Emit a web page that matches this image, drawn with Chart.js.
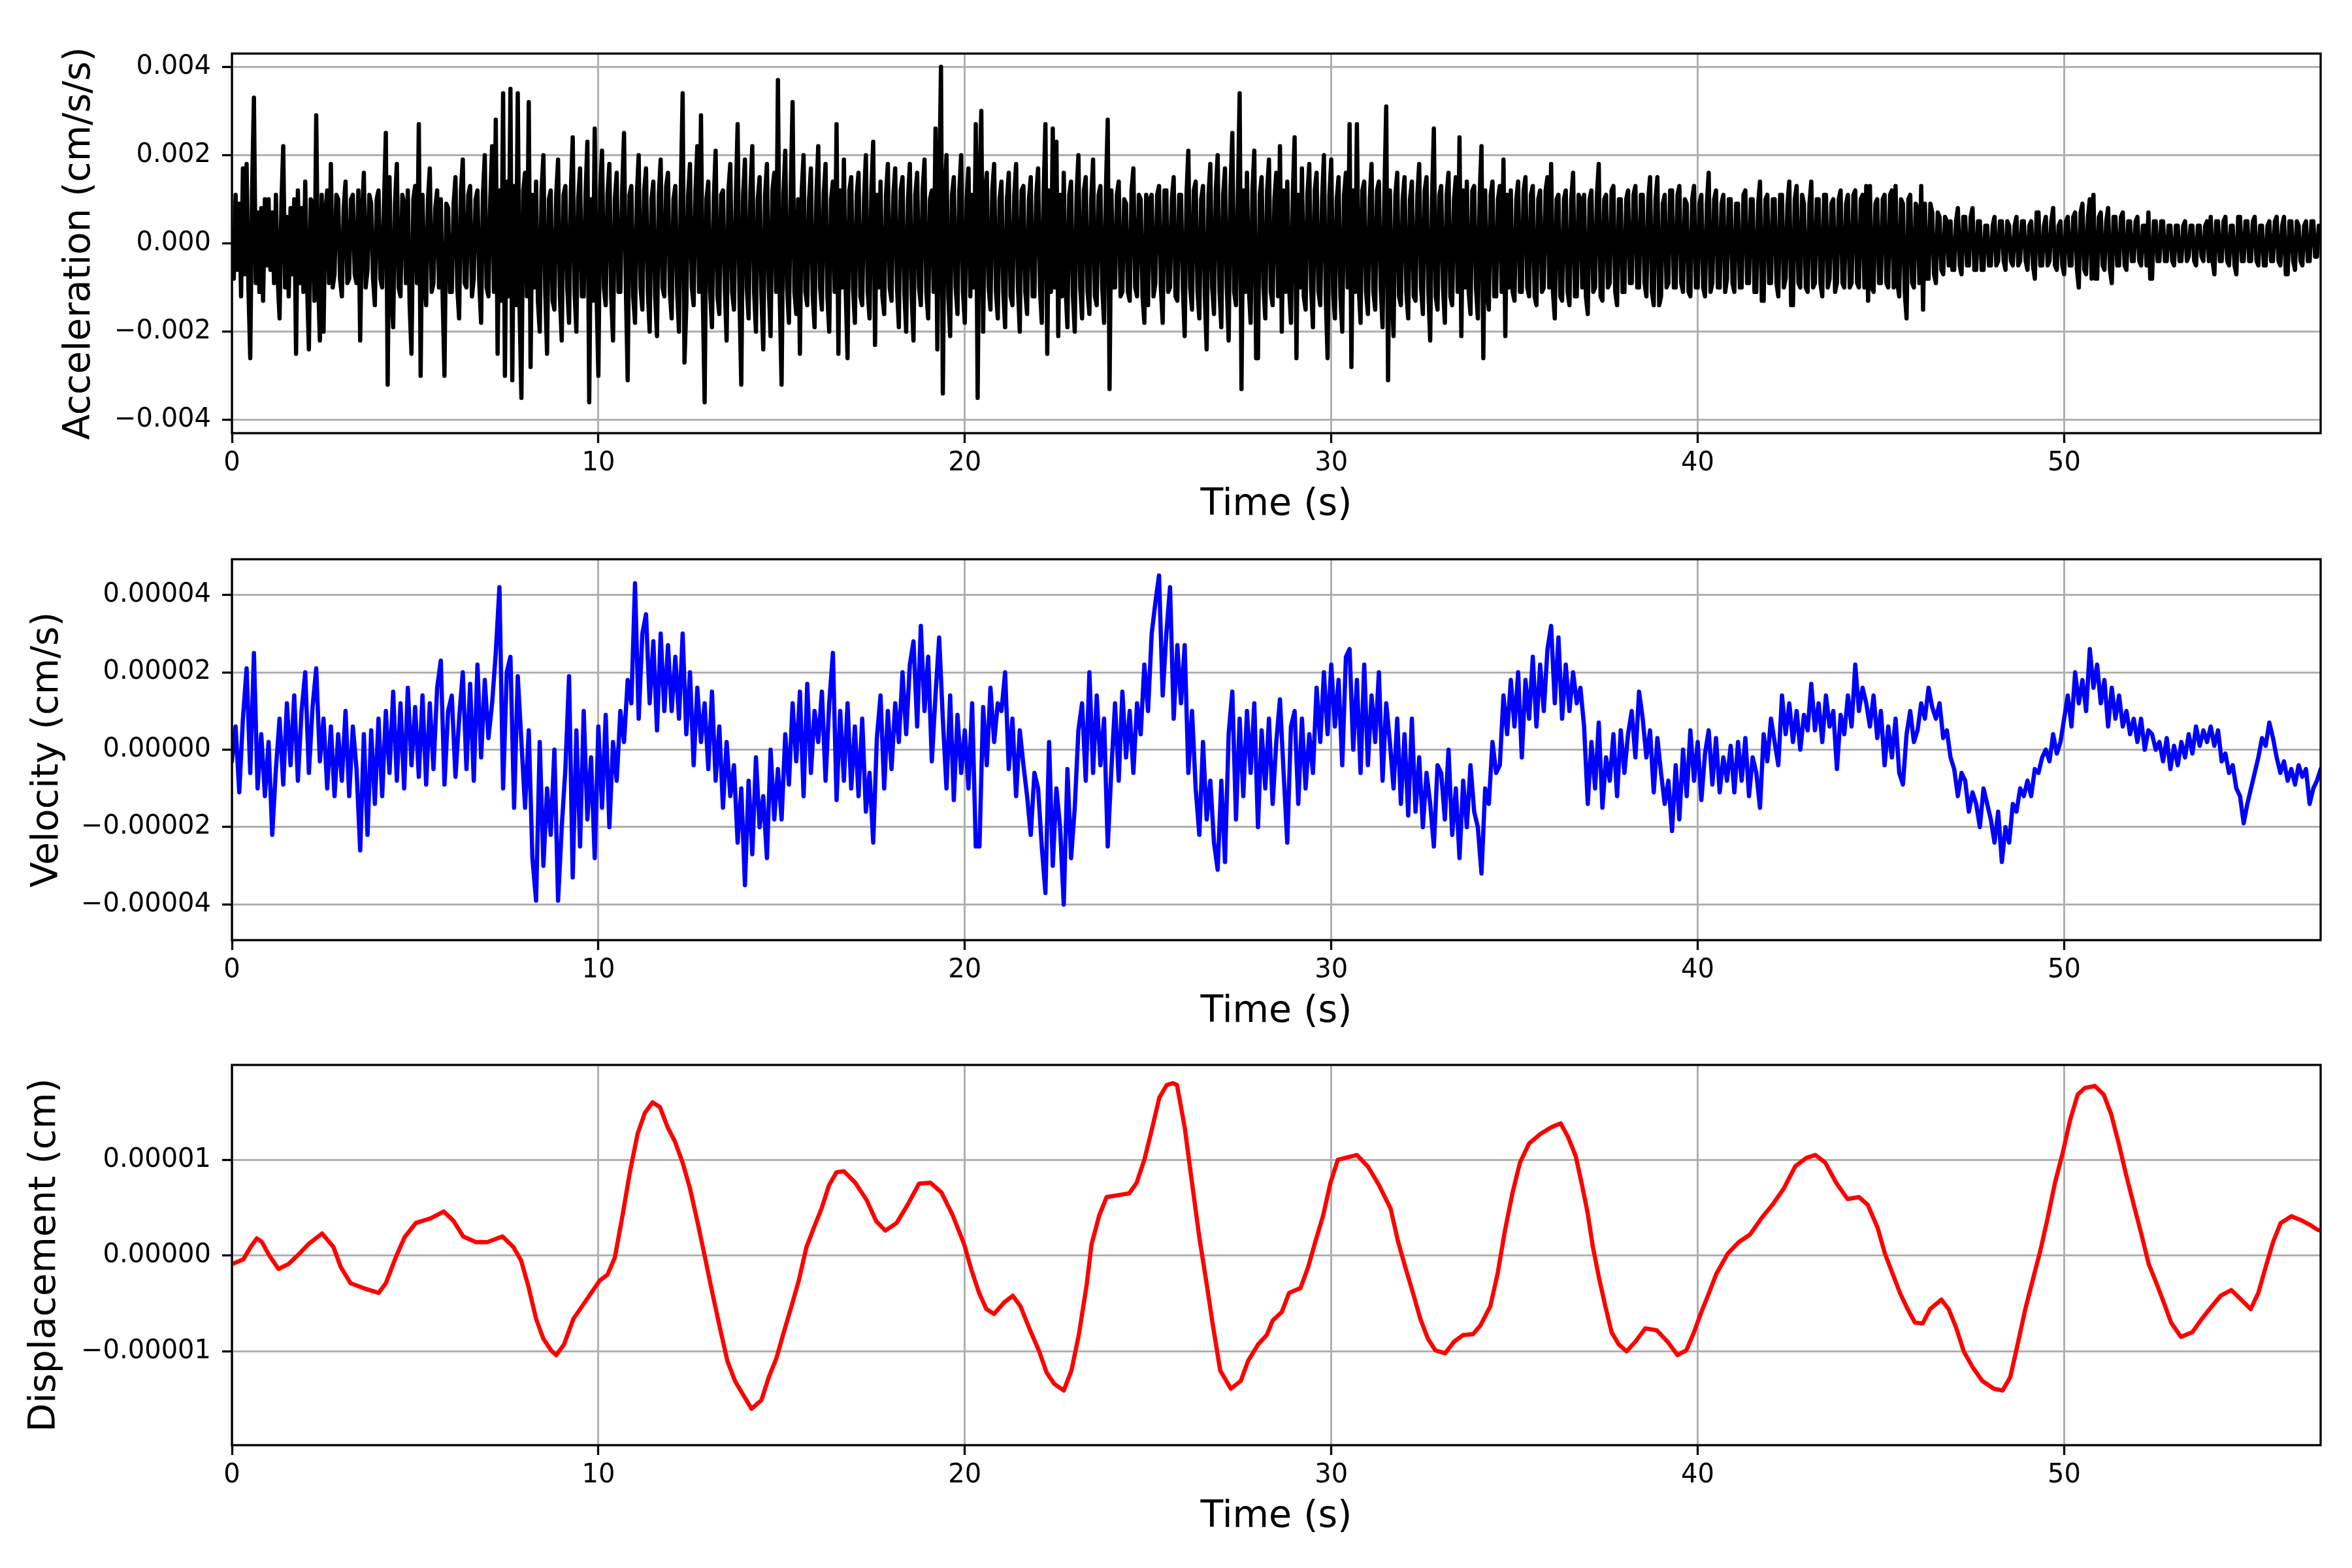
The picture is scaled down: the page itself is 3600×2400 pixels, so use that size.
<!DOCTYPE html>
<html>
<head>
<meta charset="utf-8">
<title>Acceleration / Velocity / Displacement</title>
<script src="https://cdn.jsdelivr.net/npm/chart.js@4.4.1/dist/chart.umd.min.js"></script>
<style>
  html, body { margin: 0; padding: 0; background: #fff; }
  #wrap { position: relative; width: 3600px; height: 2400px; background: #fff; }
  #wrap canvas { position: absolute; left: 0; }
</style>
</head>
<body>
<div id="wrap">
  <canvas id="accChart"></canvas>
  <canvas id="velChart"></canvas>
  <canvas id="dispChart"></canvas>
</div>
<script>
'use strict';

/* ----- common font ----- */
Chart.defaults.font.family = "'DejaVu Sans', sans-serif";
Chart.defaults.color = '#000';

/* ----- time axis ----- */
const TIME_TICKS = [0, 10, 20, 30, 40, 50];
const T_MAX = 57;

/* ----- acceleration: one value every 0.05 s (one row = 1 s), in 1e-4 cm/s/s ----- */
const ACC_DT = 0.05;
const ACC = [
  3, -8, 11, -6, 9, -12, 17, -7, 18, -10, -26, 12, 33, -9, 7, -11, 8, -13, 10, -5,
  10, -6, 7, -9, 11, -8, -17, 9, 22, -10, 6, -12, 8, -7, 10, -25, 12, -9, 8, -11,
  14, -9, -24, 10, 9, -13, 29, -8, -22, 11, -20, 7, 12, -9, 18, -10, -7, 11, 10, -8,
  -12, 8, 14, -9, -8, 10, 11, -7, -9, 12, -22, 6, 16, -10, -6, 11, 9, -8, -14, 10,
  12, -8, -10, 9, 25, -32, 15, -11, -19, 9, 18, -10, -12, 11, 9, -9, 12, -14, -25, 10,
  13, -9, 27, -30, 11, -8, -14, 10, 17, -11, -9, 8, 12, -10, 10, -12, -30, 9, 8, -11,
  -11, 9, 15, -10, -17, 12, 19, -9, -10, 11, 13, -12, -8, 10, 12, -9, -18, 11, 20, -10,
  -12, 10, 22, -11, 28, -25, 12, -13, 34, -30, 14, -12, 35, -31, 13, -14, 34, -15, -35, 12,
  16, -12, 32, -28, 11, -10, 14, -13, -20, 12, 20, -11, -25, 10, 12, -13, -15, 11, 19, -12,
  -22, 11, 13, -10, -18, 12, 24, -11, -20, 10, 17, -12, -12, 11, 23, -36, 10, -13, 26, -11,
  -30, 12, 21, -10, -14, 11, 18, -12, -22, 10, 16, -11, -11, 12, 25, -10, -31, 11, 13, -12,
  -18, 11, 20, -10, -15, 12, 17, -11, -20, 10, 14, -12, -21, 11, 19, -10, -12, 13, 16, -11,
  -17, 10, 13, -11, -20, 12, 34, -27, -14, 11, 18, -10, -14, 12, 22, -11, 29, -12, -36, 10,
  14, -11, -19, 10, 21, -12, -16, 11, 12, -10, -22, 12, 18, -11, -15, 10, 27, -12, -32, 11,
  19, -10, -17, 12, 22, -11, -20, 10, 15, -12, -24, 11, 18, -10, -21, 12, 16, -11, 37, -12,
  -32, 11, 21, -10, -18, 12, 32, -11, -16, 10, -25, 12, 20, -11, -14, 10, 17, -12, -19, 11,
  22, -10, -15, 11, 18, -12, -20, 10, 14, -11, 27, -25, 12, -10, 19, -11, -26, 12, 15, -10,
  -18, 11, 16, -12, -14, 10, 20, -11, -17, 12, 23, -23, 11, -10, 14, -12, -16, 11, 18, -10,
  -13, 11, 17, -10, -19, 12, 15, -11, -20, 10, 18, -12, -22, 11, 16, -10, -14, 12, 19, -11,
  -17, 10, 12, -11, 26, -24, 12, 40, -34, 10, 20, -12, -21, 11, 15, -10, -16, 12, 20, -11,
  -18, 10, 17, -12, 11, -10, 27, -35, 12, 30, -20, 11, 16, -10, -15, 12, 18, -11, -17, 10,
  14, -11, -19, 10, 16, -12, -14, 11, 18, -10, -20, 12, 13, -11, -16, 10, 15, -12, -12, 11,
  17, -10, -18, 11, 27, -25, 12, -11, 26, -10, 23, -21, 11, -12, 16, -10, -19, 11, 14, -12,
  -20, 11, 20, -10, -17, 12, 15, -11, -16, 10, 19, -12, -14, 11, 13, -10, -18, 12, 28, -33,
  12, -10, -10, 11, 14, -12, -11, 10, 9, -11, -13, 12, 17, -10, -12, 11, 10, -12, -18, 11,
  -14, 10, 11, -12, -9, 11, 13, -10, -18, 12, 12, -11, -10, 10, 15, -12, -13, 11, 11, -10,
  -21, 11, 21, -10, -15, 12, 14, -11, -17, 10, 13, -12, -24, 11, 18, -10, -16, 12, 20, -11,
  -19, 11, 17, -10, -22, 12, 25, -11, -14, 10, 34, -33, 12, -11, 16, -10, -18, 12, 21, -26,
  -26, 11, 15, -10, -17, 12, 19, -11, -14, 10, 16, -12, 22, -20, 12, -11, 14, -10, -18, 11,
  24, -26, 11, -10, 17, -12, -15, 11, 18, -10, -19, 12, 16, -11, -14, 10, 20, -12, -26, 11,
  19, -11, -17, 10, 15, -12, -20, 11, 16, -10, 27, -28, 12, -11, 27, -10, -18, 12, 14, -11,
  -16, 10, 18, -11, -15, 12, 14, -10, -19, 11, 31, -31, 12, -10, -21, 11, 16, -12, -14, 10,
  15, -11, -17, 10, 14, -12, -13, 11, 18, -10, -16, 12, 15, -11, -22, 10, 26, -12, -15, 11,
  13, -10, -18, 11, 16, -12, -14, 10, 15, -11, 24, -21, 12, -10, 14, -11, -16, 12, 13, -10,
  -17, 11, 22, -26, 12, -10, -15, 11, 14, -12, -12, 10, 13, -11, 19, -21, 11, -10, 12, -11,
  -13, 10, 14, -11, -11, 12, 15, -10, -12, 11, 13, -12, -14, 10, 12, -11, -10, 12, 15, -10,
  18, -11, -17, 10, 11, -12, -13, 10, 12, -11, -14, 10, 16, -12, -12, 11, 10, -10, 11, -12,
  -16, 10, 12, -11, -10, 11, 18, -12, -13, 10, 11, -10, -9, 12, 13, -11, -14, 10, 10, -11,
  -11, 10, 12, -9, -9, 11, 13, -10, -10, 11, 11, -9, -12, 10, 15, -11, -14, 10, 15, -14,
  -12, 9, 11, -10, -9, 12, 12, -10, -10, 11, 13, -9, -11, 10, 9, -11, -12, 10, 13, -10,
  -10, 9, 11, -10, -12, 9, 16, -11, -9, 10, 12, -10, -10, 9, 11, -11, -8, 10, 10, -9,
  -11, 9, 9, -10, -10, 11, 12, -9, -9, 10, 10, -11, -11, 9, 14, -13, -13, 10, 11, -9,
  -9, 10, 10, -9, -12, 11, 11, -10, -8, 9, 14, -14, -14, 10, 13, -9, -10, 11, 9, -10,
  -11, 9, 14, -10, -9, 10, 10, -9, -12, 11, 11, -10, -8, 9, 10, -11, -9, 10, 12, -9,
  -10, 9, 11, -10, -9, 11, 12, -9, -10, 10, 11, -10, 13, -13, 13, -10, -11, 9, 10, -9,
  -9, 10, 11, -9, -10, 11, 12, -10, 13, -9, -12, 10, 9, -11, -17, 10, 11, -9, -10, 9,
  8, -9, 13, -15, 9, -8, -8, 9, 7, -7, -9, 7, 6, -6, -7, 6, 5, -5, 5, -6,
  -6, 5, 8, -5, -7, 6, 6, -5, -5, 6, 8, -6, -6, 5, 5, -6, -6, 4, 4, -5,
  -5, 4, 6, -5, -4, 5, 5, -4, -6, 5, 4, -4, -5, 4, 6, -5, -4, 5, 5, -4,
  -6, 4, 5, -5, -8, 7, 7, -5, -5, 4, 6, -5, -4, 5, 8, -5, -6, 4, 5, -5,
  -7, 5, 6, -5, -5, 6, 7, -6, -10, 7, 9, -6, -7, 6, 10, -8, 11, -8, -8, 6,
  7, -5, -6, 5, 8, -6, -9, 6, 6, -5, -5, 6, 7, -5, -6, 5, 5, -4, -4, 5,
  6, -4, -5, 4, 4, -5, 7, -8, -8, 5, 5, -4, -4, 5, 5, -4, -4, 4, 4, -4,
  -5, 4, 4, -4, -4, 4, 5, -4, -3, 4, 4, -4, -5, 4, 4, -3, -4, 4, 5, -4,
  6, -4, -7, 5, 5, -4, -4, 5, 6, -4, -5, 4, 4, -5, -7, 6, 6, -4, -4, 5,
  5, -4, -4, 5, 6, -4, -5, 4, 4, -5, -5, 4, 5, -4, -4, 5, 6, -4, -5, 4,
  6, -7, -7, 5, 5, -4, -6, 5, 4, -4, -5, 4, 5, -4, -4, 5, 5, -3, -3, 4,
  2
];
const ACC_TICKS = [-0.004, -0.002, 0, 0.002, 0.004];

/* ----- velocity: one value every 0.1 s (one row = 1 s), in 1e-6 cm/s ----- */
const VEL_DT = 0.1;
const VEL = [
  -3, 6, -11, 8, 21, -6, 25, -10, 4, -12,
  2, -22, -5, 8, -9, 12, -4, 14, -8, 10,
  20, -6, 11, 21, -3, 8, -10, 6, -12, 4,
  -8, 10, -12, 6, -5, -26, 4, -22, 5, -14,
  8, -12, 10, -6, 15, -8, 12, -10, 16, -4,
  11, -7, 14, -9, 12, -5, 16, 23, -9, 10,
  14, -7, 8, 20, -5, 17, -8, 22, -2, 18,
  3, 12, 25, 42, -10, 20, 24, -15, 19, 2,
  -15, 5, -28, -39, 2, -30, -10, -22, 0, -39,
  -20, -5, 19, -33, 5, -25, 10, -18, -2, -28,
  6, -15, 9, -20, 2, -8, 10, 2, 18, 12,
  43, 8, 30, 35, 12, 28, 5, 30, 10, 27,
  10, 24, 8, 30, 4, 20, -4, 16, 2, 12,
  -5, 15, -8, 6, -15, 2, -12, -4, -24, -10,
  -35, -8, -27, -2, -20, -12, -28, 0, -18, -5,
  -18, 4, -9, 12, -3, 15, -12, 17, -6, 10,
  2, 15, -8, 12, 25, -13, 10, -8, 12, -10,
  6, -12, 8, -16, -6, -24, 3, 14, -10, 10,
  -5, 12, 2, 20, 4, 22, 28, 6, 32, 10,
  24, -3, 14, 29, 8, -10, 14, -13, 9, -6,
  5, -10, 12, -25, -25, 11, -4, 16, 2, 12,
  10, 20, -5, 8, -12, 5, -4, -12, -22, -6,
  -10, -25, -37, 2, -30, -10, -20, -40, -5, -28,
  -15, 5, 12, -8, 20, -6, 14, -4, 8, -25,
  -5, 12, -8, 15, -2, 10, -6, 12, 4, 22,
  10, 30, 38, 45, 14, 30, 42, 8, 27, 12,
  27, -6, 10, -10, -22, 2, -18, -8, -24, -31,
  -8, -29, 4, 15, -18, 8, -12, 10, -6, 12,
  -20, 5, -10, 8, -14, 2, 13, -6, -24, 6,
  10, -14, 8, -10, 4, -6, 16, 2, 20, 4,
  22, 6, 18, -4, 24, 26, 0, 18, -6, 22,
  -4, 14, 2, 20, -8, 12, 2, -10, 8, -14,
  4, -17, 8, -16, -2, -20, -6, -14, -25, -4,
  -6, -18, 0, -22, -10, -28, -8, -20, -4, -16,
  -20, -32, -10, -14, 2, -6, -4, 14, 4, 18,
  6, 20, -2, 18, 8, 24, 6, 22, 10, 26,
  32, 12, 29, 8, 22, 10, 20, 12, 16, 6,
  -14, 2, -10, 7, -15, -2, -8, 4, -12, 5,
  -6, 4, 10, -2, 15, 8, -2, 5, -11, 3,
  -6, -14, -8, -21, -4, -18, 0, -12, 5, -8,
  2, -13, -1, 5, -9, 3, -11, -2, -8, 1,
  -11, 2, -8, 3, -12, -2, -6, -15, 4, -3,
  8, 2, -4, 14, 4, 12, 2, 10, 0, 9,
  5, 17, 5, 12, 2, 14, 6, 10, -5, 9,
  4, 14, 6, 22, 10, 16, 12, 6, 14, 3,
  10, -4, 6, -2, 8, -6, -9, 4, 10, 2,
  5, 12, 8, 16, 11, 8, 12, 3, 5, -2,
  -5, -12, -6, -8, -16, -11, -14, -20, -10, -14,
  -18, -24, -16, -29, -20, -24, -14, -16, -10, -12,
  -8, -12, -5, -6, -2, 0, -3, 4, -1, 2,
  8, 14, 6, 20, 12, 18, 10, 26, 16, 22,
  12, 18, 6, 16, 8, 14, 6, 10, 4, 8,
  2, 8, 0, 5, 4, 0, 2, -3, 3, -5,
  1, -4, 2, -2, 4, -1, 6, 1, 5, 2,
  6, 1, 5, -3, -1, -6, -4, -10, -12, -19,
  -14, -10, -6, -2, 3, 1, 7, 3, -2, -6,
  -3, -8, -5, -9, -4, -7, -5, -14, -10, -8,
  -5
];
const VEL_TICKS = [-0.00004, -0.00002, 0, 0.00002, 0.00004];

/* ----- displacement: read at the turning points, in 1e-5 cm ----- */
const DISP_T = [
  0, 0.31, 0.51, 0.68, 0.82, 1.02, 1.27, 1.54, 1.84, 2.09, 2.46, 2.77, 2.97, 3.24, 3.59,
  4.0, 4.2, 4.47, 4.71, 5.02, 5.43, 5.78, 6.05, 6.31, 6.66, 6.97, 7.38, 7.68, 7.89, 8.09,
  8.3, 8.5, 8.71, 8.85, 9.06, 9.32, 9.59, 9.84, 10.04, 10.25, 10.45, 10.66, 10.86, 11.07, 11.27,
  11.48, 11.68, 11.89, 12.09, 12.3, 12.5, 12.7, 12.91, 13.11, 13.32, 13.52, 13.73, 13.93, 14.18, 14.45,
  14.65, 14.86, 15.06, 15.27, 15.47, 15.68, 15.88, 16.09, 16.29, 16.5, 16.7, 17.01, 17.32, 17.58, 17.83,
  18.14, 18.44, 18.75, 19.06, 19.36, 19.67, 19.98, 20.18, 20.39, 20.59, 20.8, 21.07, 21.31, 21.52, 21.76,
  22.03, 22.23, 22.44, 22.7, 22.91, 23.11, 23.32, 23.46, 23.67, 23.87, 24.18, 24.49, 24.69, 24.9, 25.1,
  25.31, 25.51, 25.68, 25.79, 26.0, 26.2, 26.4, 26.61, 26.77, 26.97, 27.26, 27.53, 27.73, 28.0, 28.24,
  28.4, 28.65, 28.85, 29.16, 29.37, 29.57, 29.78, 29.98, 30.18, 30.39, 30.7, 31.0, 31.31, 31.62, 31.82,
  32.02, 32.23, 32.43, 32.64, 32.84, 33.11, 33.35, 33.6, 33.87, 34.07, 34.34, 34.54, 34.74, 34.95, 35.15,
  35.4, 35.71, 36.01, 36.26, 36.46, 36.67, 36.83, 36.99, 37.14, 37.3, 37.48, 37.65, 37.85, 38.06, 38.3,
  38.57, 38.88, 39.18, 39.45, 39.69, 39.9, 40.1, 40.31, 40.51, 40.82, 41.12, 41.43, 41.74, 42.04, 42.35,
  42.66, 42.97, 43.21, 43.48, 43.78, 44.09, 44.4, 44.64, 44.91, 45.11, 45.32, 45.52, 45.73, 45.93, 46.14,
  46.34, 46.65, 46.85, 47.06, 47.26, 47.51, 47.77, 48.08, 48.32, 48.53, 48.73, 48.94, 49.14, 49.35, 49.55,
  49.75, 49.96, 50.16, 50.37, 50.57, 50.84, 51.08, 51.28, 51.49, 51.7, 51.9, 52.11, 52.31, 52.52, 52.72,
  52.92, 53.19, 53.5, 53.76, 54.01, 54.27, 54.56, 54.83, 55.09, 55.3, 55.5, 55.71, 55.91, 56.2, 56.46,
  56.71, 56.91, 57.0
];
const DISP = [
  -0.09, -0.04, 0.09, 0.18, 0.14, 0.0, -0.14, -0.09, 0.02, 0.12, 0.23, 0.09, -0.12, -0.29, -0.34,
  -0.39, -0.29, -0.02, 0.19, 0.34, 0.39, 0.46, 0.36, 0.2, 0.14, 0.14, 0.2, 0.09, -0.05, -0.32,
  -0.66, -0.87, -0.99, -1.04, -0.93, -0.66, -0.51, -0.37, -0.26, -0.2, -0.02, 0.42, 0.87, 1.27, 1.49,
  1.6, 1.55, 1.34, 1.19, 0.97, 0.7, 0.36, -0.02, -0.39, -0.76, -1.1, -1.31, -1.44, -1.6, -1.51,
  -1.27, -1.07, -0.8, -0.53, -0.26, 0.09, 0.29, 0.49, 0.73, 0.87, 0.88, 0.76, 0.58, 0.36, 0.26,
  0.34, 0.53, 0.75, 0.76, 0.66, 0.42, 0.12, -0.15, -0.39, -0.56, -0.61, -0.49, -0.42, -0.53, -0.76,
  -1.0, -1.22, -1.34, -1.41, -1.2, -0.83, -0.32, 0.12, 0.42, 0.61, 0.63, 0.65, 0.76, 1.0, 1.31,
  1.65, 1.78, 1.8, 1.78, 1.34, 0.76, 0.19, -0.32, -0.73, -1.2, -1.39, -1.31, -1.1, -0.93, -0.83,
  -0.68, -0.59, -0.39, -0.34, -0.12, 0.15, 0.42, 0.76, 1.0, 1.02, 1.05, 0.93, 0.73, 0.49, 0.15,
  -0.12, -0.39, -0.66, -0.87, -0.99, -1.02, -0.9, -0.83, -0.82, -0.73, -0.53, -0.19, 0.26, 0.66, 0.97,
  1.17, 1.27, 1.34, 1.38, 1.24, 1.04, 0.76, 0.46, 0.09, -0.22, -0.53, -0.8, -0.93, -1.0, -0.9,
  -0.76, -0.78, -0.9, -1.04, -0.99, -0.8, -0.59, -0.39, -0.19, 0.02, 0.14, 0.22, 0.39, 0.53, 0.7,
  0.93, 1.02, 1.05, 0.97, 0.76, 0.59, 0.61, 0.53, 0.29, 0.02, -0.19, -0.39, -0.56, -0.7, -0.71,
  -0.56, -0.46, -0.56, -0.76, -1.0, -1.17, -1.31, -1.39, -1.41, -1.27, -0.93, -0.56, -0.26, 0.05, 0.39,
  0.76, 1.07, 1.41, 1.68, 1.75, 1.77, 1.68, 1.48, 1.17, 0.83, 0.53, 0.22, -0.09, -0.29, -0.49,
  -0.7, -0.85, -0.8, -0.66, -0.54, -0.42, -0.36, -0.46, -0.56, -0.39, -0.12, 0.15, 0.34, 0.41, 0.37,
  0.32, 0.27, 0.26
];
const DISP_TICKS = [-0.00001, 0, 0.00001];

/* ----- frame geometry (pixels) ----- */
const PLOT_LEFT = 355;
const PLOT_RIGHT = 3552;
const PAD_TOP = 50;
const X_AXIS_H = 150;

// matplotlib style box round the plot area
const framePlugin = {
  id: 'frame',
  afterDatasetsDraw(chart) {
    const a = chart.chartArea;
    const ctx = chart.ctx;
    ctx.save();
    ctx.strokeStyle = '#000';
    ctx.lineWidth = 3.3;
    ctx.strokeRect(a.left, a.top, a.right - a.left, a.bottom - a.top);
    ctx.restore();
  }
};

const fmt = (v, d) => (v < 0 ? '\u2212' : '') + Math.abs(v).toFixed(d);

function makePanel(id, top, bottom, o) {
  const cv = document.getElementById(id);
  cv.width = 3600;
  cv.height = bottom - top + PAD_TOP + X_AXIS_H;
  cv.style.top = (top - PAD_TOP) + 'px';

  const grid = { color: '#b0b0b0', lineWidth: 3, tickColor: '#000', tickWidth: 3.3, tickLength: 15 };

  return new Chart(cv, {
    type: 'line',
    data: {
      datasets: [{
        data: o.points,
        borderColor: o.color,
        borderWidth: o.width,
        borderJoinStyle: 'round',
        borderCapStyle: 'round',
        pointRadius: 0,
        tension: 0,
        fill: false
      }]
    },
    options: {
      responsive: false,
      animation: false,
      devicePixelRatio: 1,
      layout: { padding: { top: PAD_TOP, right: 3600 - PLOT_RIGHT, left: 0, bottom: 0 } },
      plugins: { legend: { display: false }, tooltip: { enabled: false } },
      scales: {
        x: {
          type: 'linear',
          min: 0,
          max: T_MAX,
          afterBuildTicks: s => { s.ticks = TIME_TICKS.map(v => ({ value: v })); },
          afterFit: s => { s.height = X_AXIS_H; },
          ticks: { font: { size: 40 }, padding: 8, maxRotation: 0, autoSkip: false, callback: v => String(v) },
          grid: grid,
          border: { display: false },
          title: { display: true, text: 'Time (s)', font: { size: 57 }, padding: { top: 0, bottom: 6 } }
        },
        y: {
          min: o.min,
          max: o.max,
          afterBuildTicks: s => { s.ticks = o.ticks.map(v => ({ value: v })); },
          afterFit: s => { s.width = PLOT_LEFT; },
          ticks: { font: { size: 40 }, padding: 17, autoSkip: false, callback: v => fmt(v, o.digits) },
          grid: grid,
          border: { display: false },
          title: { display: true, text: o.title, font: { size: 57 }, padding: { top: o.titlePad, bottom: 0 } }
        }
      }
    },
    plugins: [framePlugin]
  });
}

/* 1. acceleration */
makePanel('accChart', 82, 663, {
  points: ACC.map((v, i) => ({ x: i * ACC_DT, y: v * 1e-4 })),
  color: '#000000', width: 6.5,
  min: -0.0043, max: 0.0043, ticks: ACC_TICKS, digits: 3,
  title: 'Acceleration (cm/s/s)', titlePad: 88
});

/* 2. velocity */
makePanel('velChart', 856, 1439, {
  points: VEL.map((v, i) => ({ x: i * VEL_DT, y: v * 1e-6 })),
  color: '#0000ff', width: 6.5,
  min: -0.0000492, max: 0.0000492, ticks: VEL_TICKS, digits: 5,
  title: 'Velocity (cm/s)', titlePad: 39
});

/* 3. displacement */
makePanel('dispChart', 1630, 2212, {
  points: DISP_T.map((t, i) => ({ x: t, y: DISP[i] * 1e-5 })),
  color: '#ff0000', width: 6.5,
  min: -0.0000198, max: 0.0000199, ticks: DISP_TICKS, digits: 5,
  title: 'Displacement (cm)', titlePad: 35
});
</script>
</body>
</html>
